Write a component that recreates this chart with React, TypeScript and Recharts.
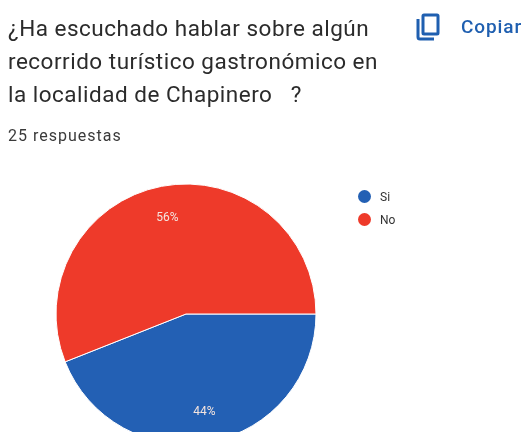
import { PieChart, Pie, Cell, Legend } from "recharts";

const categories = ["Si", "No"];
const shares = [44, 56];
const sliceColors = ["#2360b4", "#ee3a2a"];
const questionLines = [
  "¿Ha escuchado hablar sobre algún",
  "recorrido turístico gastronómico en",
  "la localidad de Chapinero\u00a0\u00a0 ?",
];
const responseCount = "25 respuestas";
const copyLabel = "Copiar";

const pieData = categories.map((name, i) => ({ name, value: shares[i] }));

const RADIAN = Math.PI / 180;

const renderPercent = ({ cx, cy, midAngle, outerRadius, value }: any) => {
  const r = outerRadius * 0.76;
  const x = cx + r * Math.cos(-midAngle * RADIAN);
  const y = cy + r * Math.sin(-midAngle * RADIAN);
  return (
    <text
      x={x}
      y={y}
      fill="#f4e4df"
      fontSize={12}
      fontFamily="Roboto"
      textAnchor="middle"
      dominantBaseline="central"
    >
      {value}%
    </text>
  );
};

const LegendList = () => (
  <div>
    {categories.map((name, i) => (
      <div
        key={name}
        style={{ display: "flex", alignItems: "center", height: 23 }}
      >
        <svg width={15} height={15} style={{ marginRight: 8 }}>
          <circle cx={7.5} cy={7.5} r={6.5} fill={sliceColors[i]} />
        </svg>
        <span style={{ fontSize: 12, fontFamily: "Roboto", color: "#333" }}>
          {name}
        </span>
      </div>
    ))}
  </div>
);

export default function App() {
  return (
    <div
      style={{
        position: "fixed",
        left: 0,
        top: 0,
        width: 528,
        height: 432,
        overflow: "hidden",
        background: "#fff",
        filter: "blur(0.5px)",
      }}
    >
      <div
        style={{
          position: "absolute",
          left: 8,
          top: 12,
          fontFamily: "Roboto",
          fontSize: 22.5,
          lineHeight: "33px",
          letterSpacing: 0.5,
          color: "#2b2b2b",
          whiteSpace: "nowrap",
        }}
      >
        {questionLines.map((line) => (
          <div key={line}>{line}</div>
        ))}
      </div>
      <div
        style={{
          position: "absolute",
          left: 8,
          top: 126,
          fontFamily: "Roboto",
          fontSize: 16,
          letterSpacing: 1,
          color: "#3a3a3a",
        }}
      >
        {responseCount}
      </div>
      <svg
        width={26}
        height={30}
        viewBox="0 0 26 30"
        style={{ position: "absolute", left: 415, top: 12 }}
      >
        <path
          d="M3 7 V25 Q3 27 5 27 H19"
          fill="none"
          stroke="#1f5fb0"
          strokeWidth={3}
        />
        <rect
          x={8}
          y={3}
          width={15}
          height={19}
          rx={1}
          fill="none"
          stroke="#1f5fb0"
          strokeWidth={3}
        />
      </svg>
      <div
        style={{
          position: "absolute",
          left: 461,
          top: 15,
          fontFamily: "Roboto",
          fontWeight: 500,
          fontSize: 19,
          letterSpacing: 0.9,
          color: "#1f5fb0",
        }}
      >
        {copyLabel}
      </div>
      <PieChart
        width={528}
        height={432}
        margin={{ top: 0, right: 0, bottom: 0, left: 0 }}
        style={{ position: "absolute", left: 0, top: 0 }}
      >
        <Pie
          data={pieData}
          dataKey="value"
          nameKey="name"
          cx={186}
          cy={314}
          outerRadius={130}
          startAngle={0}
          endAngle={-360}
          stroke="#fff"
          strokeWidth={1}
          label={renderPercent}
          labelLine={false}
          isAnimationActive={false}
        >
          {pieData.map((d, i) => (
            <Cell key={d.name} fill={sliceColors[i]} />
          ))}
        </Pie>
        <Legend
          content={<LegendList />}
          layout="vertical"
          wrapperStyle={{ position: "absolute", left: 357, top: 185, width: 80 }}
        />
      </PieChart>
    </div>
  );
}
